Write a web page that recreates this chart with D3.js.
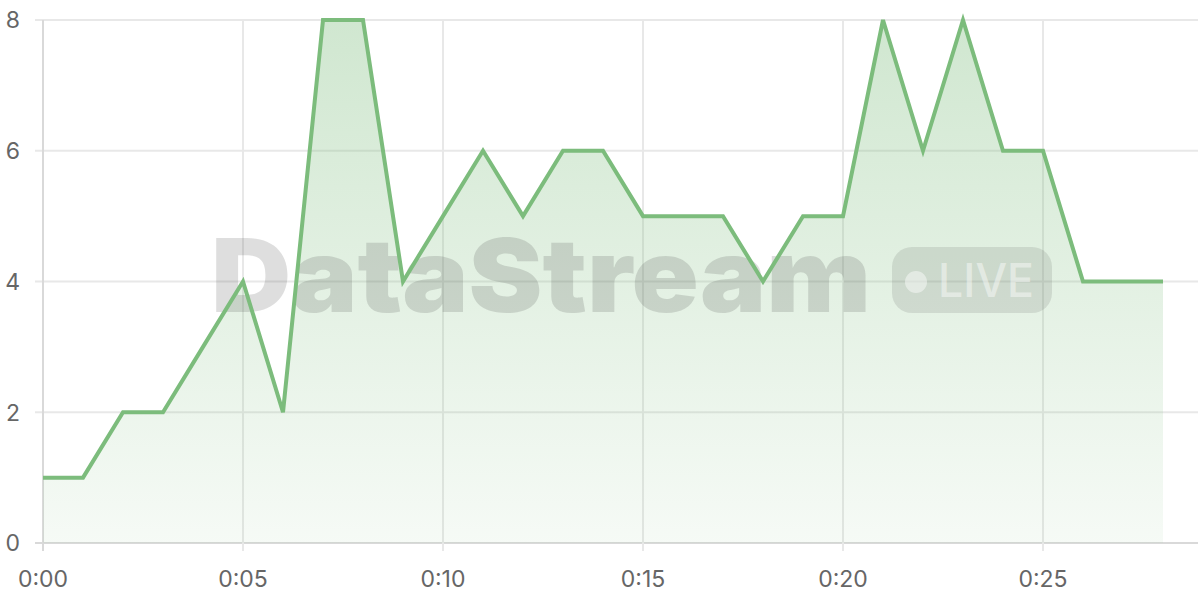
<!DOCTYPE html>
<html>
<head>
<meta charset="utf-8">
<script src="https://cdn.jsdelivr.net/npm/d3@7"></script>
<style>
  html, body { margin: 0; padding: 0; background: #fff; }
  svg { display: block; font-family: Inter, "Noto Sans", sans-serif; }
</style>
</head>
<body>
<div id="chart"></div>
<script>
// minutes since start and the count at each minute
var minutes = [0, 1, 2, 3, 4, 5, 6, 7, 8, 9, 10, 11, 12, 13, 14, 15, 16, 17, 18, 19, 20, 21, 22, 23, 24, 25, 26, 27, 28];
var counts  = [1, 1, 2, 2, 3, 4, 2, 8, 8, 4, 5, 6, 5, 6, 6, 5, 5, 5, 4, 5, 5, 8, 6, 8, 6, 6, 4, 4, 4];
var xTicks = [0, 5, 10, 15, 20, 25];
var yTicks = [0, 2, 4, 6, 8];

var svgWidth = 1200;
var svgHeight = 600;
var margin = {top: 20, right: 37, bottom: 57, left: 43};
var plotRight = 1198;

var svg = d3.select("#chart")
  .append("svg")
  .attr("width", svgWidth)
  .attr("height", svgHeight);

var x = d3.scaleLinear()
  .domain([0, 28])
  .range([margin.left, svgWidth - margin.right]);

var y = d3.scaleLinear()
  .domain([0, 8])
  .range([svgHeight - margin.bottom, margin.top]);

var data = minutes.map(function(m, i) { return {m: m, v: counts[i]}; });

// gradient fill under the line
var defs = svg.append("defs");
var grad = defs.append("linearGradient")
  .attr("id", "fillGrad")
  .attr("gradientUnits", "userSpaceOnUse")
  .attr("x1", 0).attr("x2", 0)
  .attr("y1", y(8)).attr("y2", y(0));
grad.append("stop").attr("offset", "0%").attr("stop-color", "rgb(124,188,124)").attr("stop-opacity", 0.36);
grad.append("stop").attr("offset", "100%").attr("stop-color", "rgb(124,188,124)").attr("stop-opacity", 0.07);

// grid lines
var grid = svg.append("g");
grid.selectAll(".hgrid")
  .data(yTicks)
  .enter()
  .append("line")
  .attr("x1", margin.left - 8)
  .attr("x2", plotRight)
  .attr("y1", d => y(d))
  .attr("y2", d => y(d))
  .attr("stroke", d => d === 0 ? "#d9d9d9" : "#e8e8e8")
  .attr("stroke-width", 2);

grid.selectAll(".vgrid")
  .data(xTicks)
  .enter()
  .append("line")
  .attr("x1", d => x(d))
  .attr("x2", d => x(d))
  .attr("y1", y(8))
  .attr("y2", y(0) + 8)
  .attr("stroke", d => d === 0 ? "#d9d9d9" : "#e8e8e8")
  .attr("stroke-width", 2);

// area
var area = d3.area()
  .x(d => x(d.m))
  .y0(y(0))
  .y1(d => y(d.v));

svg.append("path")
  .datum(data)
  .attr("d", area)
  .attr("fill", "url(#fillGrad)");

// watermark
var wm = svg.append("g").attr("pointer-events", "none");
wm.append("text")
  .attr("x", 211)
  .attr("y", 312)
  .attr("textLength", 660)
  .attr("lengthAdjust", "spacingAndGlyphs")
  .attr("font-size", 102)
  .attr("font-weight", 900)
  .attr("fill", "rgba(60,60,60,0.17)")
  .text("DataStream");

wm.append("rect")
  .attr("x", 892)
  .attr("y", 247)
  .attr("width", 160)
  .attr("height", 66)
  .attr("rx", 20)
  .attr("fill", "rgba(60,60,60,0.13)");

wm.append("circle")
  .attr("cx", 916)
  .attr("cy", 282)
  .attr("r", 11)
  .attr("fill", "rgba(255,255,255,0.45)");

wm.append("text")
  .attr("x", 938)
  .attr("y", 297)
  .attr("textLength", 96)
  .attr("lengthAdjust", "spacingAndGlyphs")
  .attr("font-size", 47)
  .attr("font-weight", 500)
  .attr("fill", "rgba(255,255,255,0.45)")
  .text("LIVE");

// line
var line = d3.line()
  .x(d => x(d.m))
  .y(d => y(d.v));

svg.append("path")
  .datum(data)
  .attr("d", line)
  .attr("fill", "none")
  .attr("stroke", "rgb(124,188,124)")
  .attr("stroke-width", 4)
  .attr("stroke-linejoin", "miter");

// axis labels
svg.selectAll(".ylab")
  .data(yTicks)
  .enter()
  .append("text")
  .attr("x", 20)
  .attr("y", d => y(d))
  .attr("dy", "0.36em")
  .attr("text-anchor", "end")
  .attr("font-size", 23)
  .attr("fill", "#666")
  .text(d => d);

svg.selectAll(".xlab")
  .data(xTicks)
  .enter()
  .append("text")
  .attr("x", d => x(d))
  .attr("y", 587)
  .attr("text-anchor", "middle")
  .attr("font-size", 23)
  .attr("fill", "#666")
  .text(d => "0:" + (d < 10 ? "0" + d : d));
</script>
</body>
</html>
